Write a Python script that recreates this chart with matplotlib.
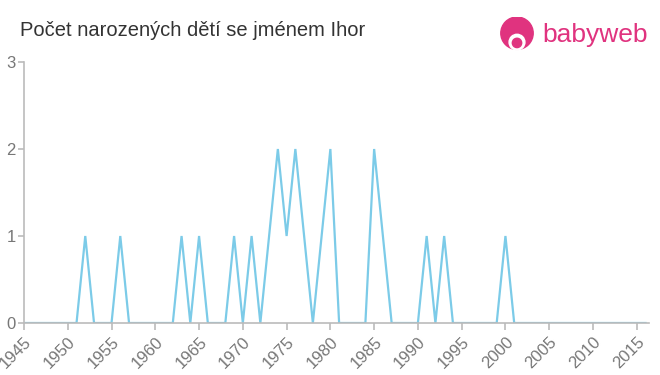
import matplotlib
matplotlib.use("Agg")
import matplotlib.pyplot as plt
from matplotlib.patches import Circle

years = list(range(1945, 2017))
peaks = {1952: 1, 1956: 1, 1963: 1, 1965: 1, 1969: 1, 1971: 1, 1973: 1, 1974: 2, 1975: 1,
         1976: 2, 1977: 1, 1979: 1, 1980: 2, 1985: 2, 1986: 1, 1991: 1, 1993: 1, 2000: 1}
counts = [peaks.get(y, 0) for y in years]
xticks = list(range(1945, 2016, 5))
yticks = [0, 1, 2, 3]

plt.rcParams['font.family'] = ['Liberation Sans', 'DejaVu Sans']
fig = plt.figure(figsize=(6.6, 3.75), dpi=100)
ax = fig.add_axes([24/660, 1-323/375, (649-24)/660, (323-62)/375])
ax.plot(years, counts, color='#7ccbe8', lw=1.6, solid_joinstyle='miter')
ax.set_xlim(1945, 2016.4)
ax.set_ylim(0, 3)
ax.set_xticks(xticks)
ax.set_xticklabels([str(x) for x in xticks], rotation=45, ha='right', rotation_mode='anchor')
ax.set_yticks(yticks)
for s in ['top', 'right']:
    ax.spines[s].set_visible(False)
for s in ['left', 'bottom']:
    ax.spines[s].set_color('#bbbbbb')
    ax.spines[s].set_linewidth(1.2)
ax.tick_params(axis='x', colors='#bbbbbb', length=5, width=1.2, labelcolor='#777777', labelsize=12, pad=3)
ax.tick_params(axis='y', colors='#bbbbbb', length=4, width=1.2, labelcolor='#777777', labelsize=12, pad=2)

fig.text(20/660, 1-31/375, 'Počet narozených dětí se jménem Ihor', fontsize=14.5, color='#333333', va='center', ha='left')
# logo
fig.text(542/660, 1-35/375, 'babyweb', fontsize=19, color='#e0337f', va='center', ha='left')
logo_ax = fig.add_axes([499/660, 1-53/375, 36/660, 36/375])
logo_ax.set_xlim(0, 1); logo_ax.set_ylim(0, 1); logo_ax.axis('off')
logo_ax.set_aspect('equal')
logo_ax.add_patch(Circle((0.5, 0.55), 0.45, color='#e0337f'))
logo_ax.add_patch(Circle((0.5, 0.3), 0.22, color='white'))
logo_ax.add_patch(Circle((0.5, 0.28), 0.13, color='#e0337f'))
fig.savefig('out.png', dpi=100)
